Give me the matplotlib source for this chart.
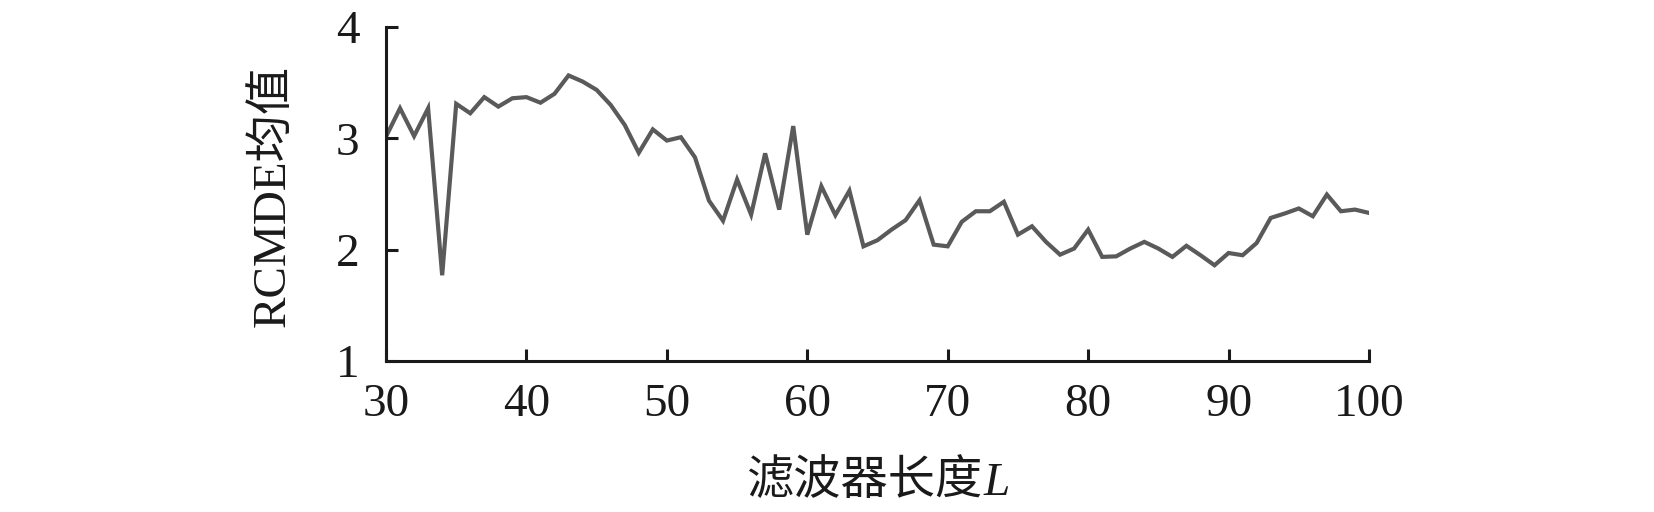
import numpy as np
import matplotlib
matplotlib.use("Agg")
import matplotlib.pyplot as plt
from matplotlib.offsetbox import TextArea, HPacker, AnnotationBbox

plt.rcParams['font.family'] = ['Liberation Serif', 'Noto Sans CJK SC']

# filter length L vs mean RCMDE
L = np.arange(30, 101)
rcmde_mean = [3.015, 3.27, 3.02, 3.27, 1.77, 3.31, 3.225, 3.37, 3.285, 3.36,
              3.37, 3.32, 3.40, 3.565, 3.51, 3.435, 3.30, 3.12, 2.87, 3.08,
              2.98, 3.01, 2.83, 2.44, 2.26, 2.63, 2.315, 2.865, 2.36, 3.11,
              2.135, 2.57, 2.31, 2.53, 2.03, 2.085, 2.18, 2.265, 2.445, 2.045,
              2.03, 2.25, 2.345, 2.345, 2.43, 2.135, 2.21, 2.07, 1.955, 2.01,
              2.18, 1.935, 1.94, 2.01, 2.07, 2.01, 1.935, 2.035, 1.95, 1.86,
              1.97, 1.95, 2.06, 2.285, 2.325, 2.37, 2.30, 2.495, 2.345, 2.36,
              2.33]
xticks = [30, 40, 50, 60, 70, 80, 90, 100]
yticks = [1, 2, 3, 4]

W, H = 1654, 512
fig = plt.figure(figsize=(W / 100, H / 100), dpi=100)
# axes box in pixels: x 386..1369, y 27..361
ax = fig.add_axes([386 / W, 1 - 361 / H, (1369 - 386) / W, (361 - 27) / H])
ax.plot(L, rcmde_mean, color='#5a5a5a', lw=3.0, solid_joinstyle='miter')

ax.set_xlim(30, 100)
ax.set_ylim(1, 4)
ax.set_xticks(xticks)
ax.set_yticks(yticks)
ax.spines['top'].set_visible(False)
ax.spines['right'].set_visible(False)
for s in ('left', 'bottom'):
    ax.spines[s].set_linewidth(2.2)
    ax.spines[s].set_color('#1a1a1a')
ax.tick_params(direction='in', length=8.5, width=2.2, color='#1a1a1a',
               labelsize=34, labelcolor='#1a1a1a')
ax.tick_params(axis='x', pad=16)
ax.tick_params(axis='y', pad=19)

# y label
fig.text(273 / W, 1 - 196 / H, 'RCMDE均值', fontsize=34, rotation=90,
         ha='center', va='center', color='#1a1a1a')

# x label: Chinese text + italic L
part1 = TextArea('滤波器长度', textprops=dict(fontsize=34, color='#1a1a1a',
                                         family=['Noto Sans CJK SC']))
part2 = TextArea('L', textprops=dict(fontsize=34, color='#1a1a1a', style='italic',
                                     family=['Liberation Serif']))
pack = HPacker(children=[part1, part2], align='baseline', pad=0, sep=1)
ab = AnnotationBbox(pack, (877.5 / W, 1 - 482 / H), xycoords='figure fraction',
                    frameon=False, box_alignment=(0.5, 0.5))
fig.add_artist(ab)

fig.savefig('out.png', dpi=100)
